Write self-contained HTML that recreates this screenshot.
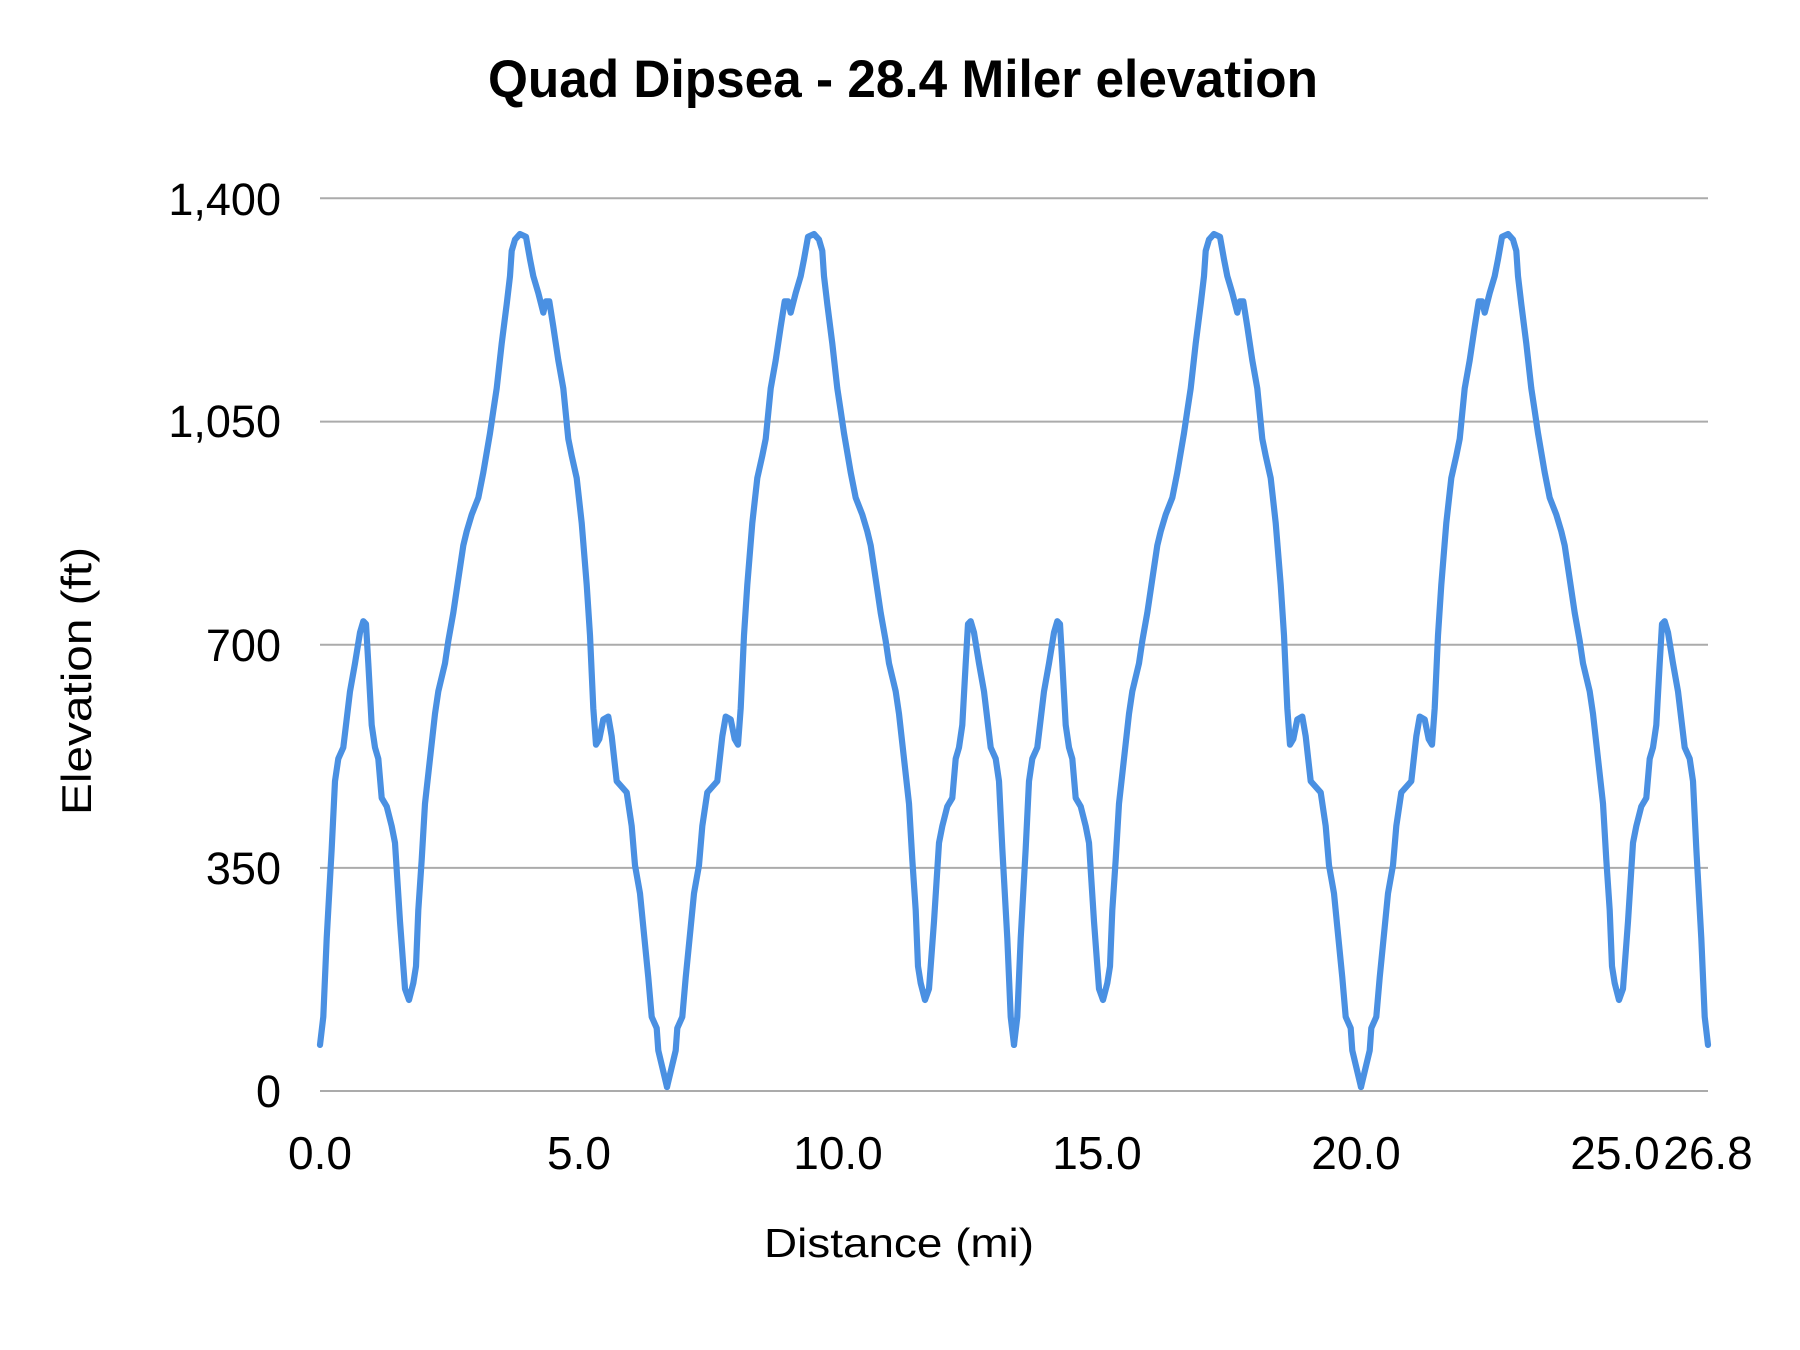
<!DOCTYPE html>
<html>
<head>
<meta charset="utf-8">
<style>
  html, body { margin: 0; padding: 0; background: #ffffff; }
  svg { display: block; }
  text { font-family: "Liberation Sans", "DejaVu Sans", sans-serif; fill: #000; }
</style>
</head>
<body>
<svg width="1800" height="1350" viewBox="0 0 1800 1350" xmlns="http://www.w3.org/2000/svg">
  <rect x="0" y="0" width="1800" height="1350" fill="#ffffff"/>

  <!-- Title -->
  <text x="488" y="97" font-size="53" font-weight="bold" textLength="830" lengthAdjust="spacingAndGlyphs">Quad Dipsea - 28.4 Miler elevation</text>

  <!-- Gridlines -->
  <g stroke="#ababab" stroke-width="2">
    <line x1="320" y1="198.3" x2="1708" y2="198.3"/>
    <line x1="320" y1="421.6" x2="1708" y2="421.6"/>
    <line x1="320" y1="644.7" x2="1708" y2="644.7"/>
    <line x1="320" y1="867.9" x2="1708" y2="867.9"/>
    <line x1="320" y1="1091" x2="1708" y2="1091"/>
  </g>

  <!-- Y tick labels -->
  <g font-size="45" text-anchor="end">
    <text x="281" y="215">1,400</text>
    <text x="281" y="437">1,050</text>
    <text x="281" y="661">700</text>
    <text x="281" y="884">350</text>
    <text x="281" y="1107">0</text>
  </g>

  <!-- X tick labels -->
  <g font-size="46" text-anchor="middle">
    <text x="320" y="1169">0.0</text>
    <text x="579" y="1169">5.0</text>
    <text x="838" y="1169">10.0</text>
    <text x="1097" y="1169">15.0</text>
    <text x="1356" y="1169">20.0</text>
    <text x="1615" y="1169">25.0</text>
    <text x="1708" y="1169">26.8</text>
  </g>

  <!-- Axis titles -->
  <text x="764" y="1257" font-size="41" textLength="270" lengthAdjust="spacingAndGlyphs">Distance (mi)</text>
  <text transform="translate(91,681) rotate(-90)" x="-134" y="0" font-size="42" textLength="268" lengthAdjust="spacingAndGlyphs">Elevation (ft)</text>

  <!-- Series -->
  <g fill="none" stroke="#4a90e2" stroke-width="6.2" stroke-linejoin="round" stroke-linecap="round">
    <path id="seg" d="M320,1044.9 L323.3,1016.9 L326.7,938.3 L331.7,848.5 L335,781.2 L338.3,758.7 L343.3,747.5 L350,691.4 L355,663.3 L360,632.5 L363.3,621.2 L366,624 L368.3,663.3 L371.7,725 L375,747.5 L378.3,758.7 L381.7,798 L386.7,806.4 L391.7,826.1 L395,842.9 L400,921.5 L405,988.8 L409,1000 L413.3,983.2 L416,966.3 L418.3,910.2 L421.7,859.7 L425,803.6 L430,758.7 L435,713.8 L438.3,691.4 L445,663.3 L448.3,640.9 L453.3,612.8 L458.3,579.1 L463.3,545.5 L466.7,531.4 L471.7,514.6 L478.3,497.8 L483.3,472.5 L490,433.2 L493.3,410.8 L496.7,388.4 L501.7,343.5 L506.7,304.2 L510,276.1 L511.7,250.9 L515,239.6 L520,234 L526,236.8 L530,259.3 L533.3,276.1 L538.3,293 L543.3,312.6 L546,301.4 L549.3,301.4 L553.3,326.6 L558.3,360.3 L563.3,388.4 L568.3,438.9 L571.7,455.7 L576.7,478.1 L581.7,523 L586.7,584.8 L590,635.3 L593.3,708.2 L596,744.7 L599.3,739.1 L603.3,719.4 L608.3,716.6 L611.7,736.3 L616.7,781.2 L621.7,786.8 L626.7,792.4 L631.7,826.1 L635,865.3 L640,893.4 L643.3,927.1 L648.3,977.6 L651.7,1016.9 L656.7,1028.1 L658.3,1050.5 L667,1087"/>
    <use href="#seg" transform="translate(1334,0) scale(-1,1)"/>
    <use href="#seg" transform="translate(694,0)"/>
    <use href="#seg" transform="translate(2028,0) scale(-1,1)"/>
  </g>
</svg>
</body>
</html>
